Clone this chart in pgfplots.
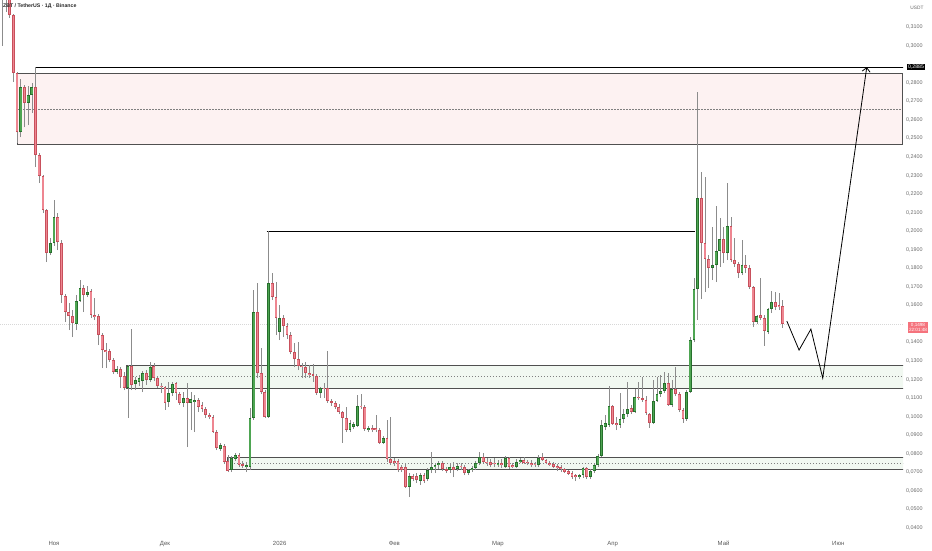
\documentclass[border=0pt]{standalone}
\usepackage{fontspec}
\setmainfont{Liberation Sans}
\usepackage{pgfplots}
\pgfplotsset{compat=1.18}
\usepackage{pgfplotstable}
\usetikzlibrary{arrows.meta}

\definecolor{upfill}{RGB}{78,165,82}
\definecolor{upedge}{RGB}{38,112,44}
\definecolor{dnfill}{RGB}{238,134,145}
\definecolor{dnedge}{RGB}{200,80,92}
\definecolor{wick}{RGB}{140,140,140}
\definecolor{pinkzone}{RGB}{253,242,242}
\definecolor{greenzone}{RGB}{241,248,241}
\definecolor{zoneline}{RGB}{80,80,80}
\definecolor{axistext}{RGB}{105,105,105}
\definecolor{pricered}{RGB}{245,115,125}

% daily candles, d = days from 1 Nov
\pgfplotstableread{
d O H L C
-9 0.2533 0.2819 0.2506 0.2776
-7 0.2690 0.2782 0.2571 0.2733
-6 0.2733 0.2798 0.2636 0.2776
-1 0.1882 0.1963 0.1871 0.1936
0 0.1936 0.2167 0.1920 0.2076
6 0.1499 0.1655 0.1467 0.1623
7 0.1623 0.1736 0.1617 0.1693
9 0.1655 0.1704 0.1644 0.1671
17 0.1240 0.1273 0.1229 0.1256
20 0.1154 0.1278 0.0993 0.1273
22 0.1175 0.1213 0.1143 0.1197
23 0.1186 0.1224 0.1165 0.1208
24 0.1192 0.1246 0.1132 0.1235
26 0.1197 0.1294 0.1186 0.1267
31 0.1079 0.1186 0.1052 0.1127
32 0.1127 0.1186 0.1111 0.1175
35 0.1074 0.1132 0.1052 0.1100
37 0.1074 0.1132 0.0928 0.1095
38 0.1079 0.1117 0.0917 0.1090
45 0.0825 0.0858 0.0815 0.0847
48 0.0712 0.0787 0.0701 0.0777
49 0.0771 0.0804 0.0761 0.0793
52 0.0728 0.0755 0.0701 0.0739
53 0.0728 0.1047 0.0712 0.0993
54 0.0993 0.1682 0.0982 0.1563
58 0.0998 0.2000 0.0993 0.1720
61 0.1456 0.1601 0.1413 0.1531
72 0.1127 0.1159 0.1100 0.1154
80 0.0928 0.0982 0.0917 0.0966
81 0.0944 0.0971 0.0933 0.0960
82 0.0950 0.1117 0.0944 0.1058
85 0.0928 0.0950 0.0917 0.0939
89 0.0858 0.0896 0.0852 0.0885
96 0.0620 0.0696 0.0566 0.0680
99 0.0652 0.0696 0.0631 0.0685
101 0.0663 0.0723 0.0652 0.0712
102 0.0712 0.0809 0.0696 0.0728
103 0.0728 0.0750 0.0696 0.0739
104 0.0739 0.0761 0.0717 0.0750
107 0.0712 0.0750 0.0696 0.0728
109 0.0717 0.0750 0.0707 0.0734
112 0.0696 0.0717 0.0685 0.0712
113 0.0712 0.0734 0.0701 0.0723
114 0.0723 0.0761 0.0712 0.0750
115 0.0750 0.0809 0.0739 0.0782
120 0.0739 0.0766 0.0728 0.0750
122 0.0728 0.0787 0.0723 0.0777
125 0.0728 0.0771 0.0723 0.0755
126 0.0755 0.0777 0.0750 0.0766
131 0.0739 0.0793 0.0728 0.0777
142 0.0674 0.0690 0.0663 0.0685
143 0.0685 0.0728 0.0669 0.0723
145 0.0674 0.0717 0.0663 0.0707
146 0.0707 0.0750 0.0696 0.0739
147 0.0739 0.0798 0.0728 0.0787
148 0.0787 0.0982 0.0782 0.0955
149 0.0944 0.1009 0.0928 0.0966
150 0.0955 0.1165 0.0944 0.1058
153 0.0955 0.1127 0.0939 0.0987
154 0.0987 0.1041 0.0966 0.1014
155 0.1014 0.1186 0.0998 0.1041
157 0.1025 0.1149 0.1020 0.1106
162 0.0966 0.1197 0.0960 0.1084
163 0.1084 0.1213 0.1079 0.1122
164 0.1122 0.1224 0.1106 0.1138
165 0.1138 0.1240 0.1127 0.1181
167 0.1063 0.1197 0.1052 0.1149
171 0.0987 0.1143 0.0977 0.1132
172 0.1132 0.1429 0.1127 0.1413
173 0.1413 0.1747 0.1402 0.1687
174 0.1687 0.2749 0.1521 0.2178
178 0.1801 0.2023 0.1736 0.1817
179 0.1817 0.2135 0.1725 0.1893
180 0.1893 0.2071 0.1806 0.1957
182 0.1882 0.2259 0.1844 0.2028
186 0.1774 0.1952 0.1763 0.1817
190 0.1510 0.1547 0.1499 0.1542
193 0.1456 0.1585 0.1445 0.1580
194 0.1580 0.1677 0.1558 0.1617
}\upcandles

\pgfplotstableread{
d O H L C
-14 0.3320 0.3350 0.3000 0.3270
-13 0.3400 0.3450 0.3181 0.3300
-12 0.3300 0.3350 0.3150 0.3165
-11 0.3165 0.3170 0.2803 0.2852
-10 0.2852 0.2857 0.2474 0.2533
-8 0.2776 0.2787 0.2560 0.2690
-5 0.2776 0.2885 0.2345 0.2410
-4 0.2410 0.2421 0.2259 0.2297
-3 0.2297 0.2302 0.2097 0.2113
-2 0.2113 0.2120 0.1833 0.1882
1 0.2076 0.2097 0.1898 0.1941
2 0.1936 0.1952 0.1612 0.1655
3 0.1650 0.1660 0.1510 0.1563
4 0.1563 0.1612 0.1467 0.1542
5 0.1542 0.1574 0.1429 0.1505
8 0.1693 0.1709 0.1563 0.1655
10 0.1677 0.1687 0.1531 0.1547
11 0.1547 0.1639 0.1521 0.1536
12 0.1542 0.1553 0.1386 0.1440
13 0.1440 0.1451 0.1262 0.1359
14 0.1359 0.1397 0.1262 0.1348
15 0.1354 0.1364 0.1294 0.1305
16 0.1305 0.1316 0.1229 0.1240
18 0.1256 0.1267 0.1154 0.1213
19 0.1219 0.1240 0.1143 0.1154
21 0.1273 0.1472 0.1143 0.1170
25 0.1235 0.1251 0.1170 0.1197
27 0.1273 0.1289 0.1192 0.1208
28 0.1208 0.1219 0.1154 0.1165
29 0.1165 0.1181 0.1127 0.1159
30 0.1159 0.1165 0.1036 0.1074
33 0.1181 0.1186 0.1090 0.1127
34 0.1122 0.1132 0.1063 0.1074
36 0.1100 0.1181 0.0836 0.1074
39 0.1090 0.1100 0.1025 0.1052
40 0.1063 0.1079 0.1025 0.1041
41 0.1041 0.1052 0.0993 0.1009
42 0.1009 0.1020 0.0987 0.0998
43 0.0998 0.1009 0.0912 0.0917
44 0.0917 0.0928 0.0820 0.0831
46 0.0841 0.0852 0.0744 0.0755
47 0.0761 0.0793 0.0701 0.0707
50 0.0793 0.0804 0.0728 0.0739
51 0.0744 0.0761 0.0723 0.0734
55 0.1563 0.1720 0.1208 0.1235
56 0.1235 0.1370 0.1122 0.1132
57 0.1132 0.1143 0.0993 0.0998
59 0.1720 0.1774 0.1628 0.1644
60 0.1644 0.1725 0.1440 0.1531
62 0.1531 0.1547 0.1429 0.1488
63 0.1488 0.1505 0.1418 0.1440
64 0.1440 0.1456 0.1337 0.1348
65 0.1348 0.1397 0.1267 0.1310
66 0.1310 0.1402 0.1251 0.1273
67 0.1273 0.1289 0.1208 0.1267
68 0.1267 0.1294 0.1208 0.1235
69 0.1235 0.1278 0.1208 0.1224
70 0.1229 0.1284 0.1186 0.1219
71 0.1219 0.1229 0.1117 0.1127
73 0.1154 0.1181 0.1100 0.1149
74 0.1154 0.1354 0.1074 0.1084
75 0.1084 0.1095 0.1058 0.1074
76 0.1074 0.1084 0.1041 0.1052
77 0.1052 0.1068 0.1014 0.1025
78 0.1025 0.1030 0.0858 0.0993
79 0.0993 0.1052 0.0917 0.0928
83 0.1058 0.1122 0.1041 0.1052
84 0.1052 0.1063 0.0923 0.0933
86 0.0939 0.0955 0.0917 0.0928
87 0.0939 0.1009 0.0917 0.0928
88 0.0928 0.0939 0.0852 0.0858
90 0.0885 0.0982 0.0755 0.0771
91 0.0771 0.0998 0.0739 0.0750
92 0.0761 0.0777 0.0734 0.0750
93 0.0761 0.0771 0.0701 0.0712
94 0.0728 0.0739 0.0701 0.0712
95 0.0728 0.0750 0.0615 0.0620
97 0.0680 0.0690 0.0652 0.0663
98 0.0680 0.0696 0.0642 0.0658
100 0.0685 0.0696 0.0642 0.0652
105 0.0750 0.0761 0.0707 0.0717
106 0.0717 0.0728 0.0696 0.0707
108 0.0728 0.0755 0.0674 0.0712
110 0.0734 0.0750 0.0712 0.0728
111 0.0728 0.0739 0.0685 0.0696
116 0.0782 0.0804 0.0750 0.0755
117 0.0755 0.0777 0.0734 0.0750
118 0.0755 0.0771 0.0728 0.0739
119 0.0750 0.0777 0.0728 0.0744
121 0.0750 0.0771 0.0723 0.0739
123 0.0777 0.0782 0.0717 0.0728
124 0.0739 0.0750 0.0723 0.0728
127 0.0766 0.0782 0.0744 0.0750
128 0.0755 0.0766 0.0739 0.0750
129 0.0750 0.0766 0.0728 0.0739
130 0.0744 0.0755 0.0728 0.0739
132 0.0782 0.0804 0.0761 0.0766
133 0.0766 0.0771 0.0744 0.0750
134 0.0750 0.0761 0.0734 0.0739
135 0.0744 0.0755 0.0723 0.0728
136 0.0734 0.0744 0.0707 0.0723
137 0.0728 0.0739 0.0701 0.0717
138 0.0717 0.0723 0.0696 0.0701
139 0.0707 0.0712 0.0685 0.0690
140 0.0696 0.0707 0.0663 0.0674
141 0.0685 0.0690 0.0652 0.0674
144 0.0723 0.0728 0.0663 0.0674
151 0.1058 0.1063 0.0955 0.0960
152 0.0966 0.0998 0.0928 0.0955
156 0.1047 0.1063 0.1014 0.1025
158 0.1106 0.1186 0.1090 0.1100
159 0.1100 0.1213 0.1079 0.1090
160 0.1090 0.1111 0.1009 0.1020
161 0.1014 0.1020 0.0939 0.0966
166 0.1181 0.1235 0.1058 0.1063
168 0.1149 0.1267 0.1111 0.1122
169 0.1122 0.1132 0.1025 0.1036
170 0.1036 0.1047 0.0966 0.0987
175 0.2178 0.2319 0.1633 0.1936
176 0.1936 0.2291 0.1671 0.1850
177 0.1850 0.1871 0.1693 0.1801
181 0.1957 0.2023 0.1828 0.1882
183 0.2028 0.2076 0.1833 0.1844
184 0.1844 0.1963 0.1806 0.1823
185 0.1823 0.1833 0.1747 0.1774
187 0.1817 0.1871 0.1774 0.1801
188 0.1801 0.1817 0.1687 0.1698
189 0.1698 0.1704 0.1483 0.1510
191 0.1547 0.1747 0.1521 0.1531
192 0.1531 0.1547 0.1381 0.1462
195 0.1617 0.1671 0.1574 0.1590
196 0.1601 0.1666 0.1574 0.1590
197 0.1596 0.1628 0.1478 0.1498
}\downcandles

\begin{document}
\begin{tikzpicture}
\useasboundingbox (0,0) rectangle (932pt,550pt);
\begin{axis}[
  at={(0pt,15pt)}, anchor=south west,
  scale only axis, width=903pt, height=535pt,
  xmin=-14.6, xmax=229.5, ymin=0.0362, ymax=0.3246,
  axis line style={draw=none},
  major tick length=0pt,
  scaled y ticks=false,
  xtick={0,30,61,92,120,151,181,212},
  xticklabels={Ноя,Дек,2026,Фев,Мар,Апр,Май,Июн},
  xticklabel style={font=\fontsize{6}{7}\selectfont, text=axistext!85!black, inner sep=0pt, yshift=-6pt},
  ytick={0.04,0.05,0.06,0.07,0.08,0.09,0.10,0.11,0.12,0.13,0.14,0.16,0.17,0.18,0.19,0.20,0.21,0.22,0.23,0.24,0.25,0.26,0.27,0.28,0.30,0.31},
  yticklabel pos=right,
  yticklabel style={font=\fontsize{5.4}{6}\selectfont, text=axistext, anchor=west, inner sep=0pt, xshift=3pt,
    /pgf/number format/.cd, fixed, fixed zerofill, precision=4, use comma, assume math mode=true},
]
% zones
\addplot[fill=pinkzone, draw=zoneline, line width=0.8pt, forget plot]
  coordinates {(-10,0.2469) (229.2,0.2469) (229.2,0.2852) (-10,0.2852)} -- cycle;
\addplot[draw=gray, dash pattern=on 1.5pt off 1.5pt, line width=0.6pt, forget plot]
  coordinates {(-10,0.2658) (229.2,0.2658)};
\addplot[fill=greenzone, draw=zoneline, line width=0.8pt, forget plot]
  coordinates {(19.7,0.1154) (231,0.1154) (231,0.1278) (19.7,0.1278)} -- cycle;
\addplot[draw=gray, dash pattern=on 1.5pt off 1.5pt, line width=0.6pt, forget plot]
  coordinates {(19.7,0.1216) (231,0.1216)};
\addplot[fill=greenzone, draw=zoneline, line width=0.8pt, forget plot]
  coordinates {(47,0.0716) (231,0.0716) (231,0.0782) (47,0.0782)} -- cycle;
\addplot[draw=gray, dash pattern=on 1.5pt off 1.5pt, line width=0.6pt, forget plot]
  coordinates {(47,0.0749) (231,0.0749)};
% current price line
\addplot[draw={rgb,255:red,215;green,215;blue,215}, dash pattern=on 1pt off 1pt, line width=0.5pt, forget plot]
  coordinates {(-14.6,0.1498) (229.5,0.1498)};
% level lines
\addplot[black, line width=0.8pt, forget plot] coordinates {(-5,0.2885) (231,0.2885)};
\addplot[black, line width=0.8pt, forget plot] coordinates {(57.5,0.2000) (173.2,0.2000)};
% wicks
\addplot[draw=none, mark=none, forget plot, error bars/.cd, y dir=plus, y explicit, error mark=none,
  error bar style={draw=wick, line width=0.6pt}]
  table[x=d, y=L, y error plus expr=\thisrow{H}-\thisrow{L}] {\upcandles};
\addplot[draw=none, mark=none, forget plot, error bars/.cd, y dir=plus, y explicit, error mark=none,
  error bar style={draw=wick, line width=0.6pt}]
  table[x=d, y=L, y error plus expr=\thisrow{H}-\thisrow{L}] {\downcandles};
% bodies
\addplot[draw=none, mark=none, forget plot, error bars/.cd, y dir=plus, y explicit, error mark=none,
  error bar style={draw=upedge, line width=2.8pt}]
  table[x=d, y=O, y error plus expr=\thisrow{C}-\thisrow{O}] {\upcandles};
\addplot[draw=none, mark=none, forget plot, error bars/.cd, y dir=plus, y explicit, error mark=none,
  error bar style={draw=upfill, line width=1.6pt}]
  table[x=d, y expr=\thisrow{O}+0.0005, y error plus expr=\thisrow{C}-\thisrow{O}-0.001] {\upcandles};
\addplot[draw=none, mark=none, forget plot, error bars/.cd, y dir=plus, y explicit, error mark=none,
  error bar style={draw=dnedge, line width=2.8pt}]
  table[x=d, y=C, y error plus expr=\thisrow{O}-\thisrow{C}] {\downcandles};
\addplot[draw=none, mark=none, forget plot, error bars/.cd, y dir=plus, y explicit, error mark=none,
  error bar style={draw=dnfill, line width=1.6pt}]
  table[x=d, y expr=\thisrow{C}+0.0005, y error plus expr=\thisrow{O}-\thisrow{C}-0.001] {\downcandles};
% projected path
\addplot[black, line width=0.8pt, forget plot, -{Straight Barb[length=4pt,width=8pt]}]
  coordinates {(198.1,0.1515) (201.4,0.1359) (204.6,0.1472) (207.8,0.1208) (219.7,0.2884)};
\end{axis}
\node[anchor=west, font=\fontsize{5.2}{6}\selectfont\bfseries, text={rgb,255:red,40;green,40;blue,40}, inner sep=0pt] at (3pt,544pt) {ZBT / TetherUS · 1Д · Binance};
\node[font=\fontsize{4.8}{5}\selectfont, text=axistext, inner sep=0pt] at (917pt,542pt) {USDT};
\node[fill=black, text=white, font=\fontsize{5.2}{6}\selectfont, inner sep=1pt] at (916pt,483pt) {0,2885};
\node[fill=pricered, text=white, font=\fontsize{4.6}{5.2}\selectfont, align=center, inner sep=1pt] at (918pt,222.5pt) {0,1498\\22:01:48};
\end{tikzpicture}
\end{document}
